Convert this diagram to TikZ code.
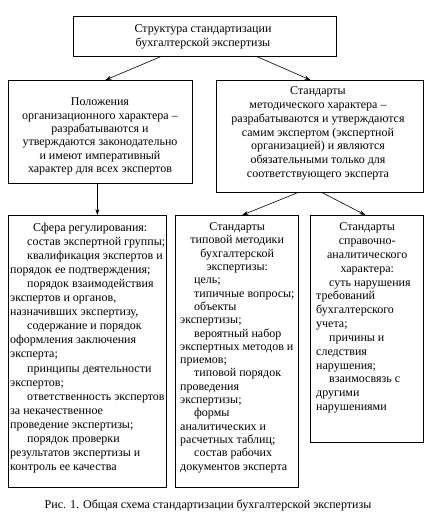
\documentclass[tikz,border=0pt]{standalone}
\usepackage{fontspec}
\setmainfont{Liberation Serif}
\usetikzlibrary{arrows.meta}
\begin{document}
\begin{tikzpicture}[x=1pt,y=-1pt,
  box/.style={draw, line width=0.8pt, inner sep=0pt, anchor=north west},
  txt/.style={inner sep=0pt, font=\fontsize{12}{13.7}\selectfont},
  arr/.style={line width=0.6pt, -{Stealth[length=6pt,width=4pt]}}]
\fill[white] (0,0) rectangle (425,529);
\useasboundingbox (0,0) rectangle (425,529);
% boxes
\node[box, minimum width=263, minimum height=40] (top) at (73,16) {};
\node[box, minimum width=184, minimum height=103] (l2a) at (8,80) {};
\node[box, minimum width=207, minimum height=112] (l2b) at (216,80) {};
\node[box, minimum width=158, minimum height=272] (l3a) at (8,215) {};
\node[box, minimum width=123, minimum height=272] (l3b) at (175,215) {};
\node[box, minimum width=113, minimum height=227] (l3c) at (310,215) {};
% texts
\node[txt, align=center] (ttop) at (203,37) {Структура стандартизации\\бухгалтерской экспертизы};
\node[txt, align=center, font=\fontsize{12}{13.4}\selectfont] (tl2a) at (100,136.5) {Положения\\организационного характера –\\разрабатываются и\\утверждаются законодательно\\и имеют императивный\\характер для всех экспертов};
\node[txt, align=center, font=\fontsize{12}{13.8}\selectfont] (tl2b) at (318,133.5) {Стандарты\\методического характера –\\разрабатываются и утверждаются\\самим экспертом (экспертной\\организацией) и являются\\обязательными только для\\соответствующего эксперта};
\node[txt, align=left, anchor=north west, font=\fontsize{12}{14.1}\selectfont] (tl3a) at (10,222.5) {\hspace*{23pt}Сфера регулирования:\\
\hspace*{17pt}состав экспертной группы;\\
\hspace*{17pt}квалификация экспертов и\\
порядок ее подтверждения;\\
\hspace*{17pt}порядок взаимодействия\\
экспертов и органов,\\
назначивших экспертизу,\\
\hspace*{17pt}содержание и порядок\\
оформления заключения\\
эксперта;\\
\hspace*{17pt}принципы деятельности\\
экспертов;\\
\hspace*{17pt}ответственность экспертов\\
за некачественное\\
проведение экспертизы;\\
\hspace*{17pt}порядок проверки\\
результатов экспертизы и\\
контроль ее качества};
\node[txt, align=left, anchor=north west, font=\fontsize{12}{13.3}\selectfont] (tl3b) at (180,222.5) {\makebox[114pt][c]{Стандарты}\\
\makebox[114pt][c]{типовой методики}\\
\makebox[114pt][c]{бухгалтерской}\\
\makebox[114pt][c]{экспертизы:}\\
\hspace*{14pt}цель;\\
\hspace*{14pt}типичные вопросы;\\
\hspace*{14pt}объекты\\
экспертизы;\\
\hspace*{14pt}вероятный набор\\
экспертных методов и\\
приемов;\\
\hspace*{14pt}типовой порядок\\
проведения\\
экспертизы;\\
\hspace*{14pt}формы\\
аналитических и\\
расчетных таблиц;\\
\hspace*{14pt}состав рабочих\\
документов эксперта};
\node[txt, align=left, anchor=north west, font=\fontsize{12}{13.85}\selectfont] (tl3c) at (316,222.5) {\makebox[102pt][c]{Стандарты}\\
\makebox[102pt][c]{справочно-}\\
\makebox[102pt][c]{аналитического}\\
\makebox[102pt][c]{характера:}\\
\hspace*{13pt}суть нарушения\\
требований\\
бухгалтерского\\
учета;\\
\hspace*{13pt}причины и\\
следствия\\
нарушения;\\
\hspace*{13pt}взаимосвязь с\\
другими\\
нарушениями};
\node[txt] (cap) at (208,505) {Рис. 1. Общая схема стандартизации бухгалтерской экспертизы};
% connectors
\draw[arr] ([xshift=-44.5pt]top.south) -- ([xshift=5pt]l2a.north);
\draw[arr] ([xshift=52.5pt]top.south) -- ([xshift=-9.5pt]l2b.north);
\draw[arr] ([xshift=-3pt]l2a.south) -- ([xshift=10pt]l3a.north);
\draw[arr] ([xshift=-22.5pt]l2b.south) -- ([xshift=5.5pt]l3b.north);
\draw[arr] ([xshift=2.5pt]l2b.south) -- ([xshift=-1.5pt]l3c.north);
\end{tikzpicture}
\end{document}
